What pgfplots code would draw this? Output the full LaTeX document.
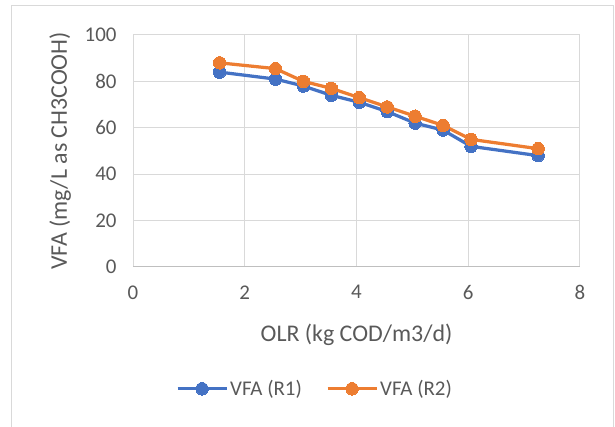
\documentclass[border=0pt]{standalone}
\usepackage{pgfplots}
\pgfplotsset{compat=1.18}
\usepackage{fontspec}
\setmainfont{Carlito}
\definecolor{xlblue}{HTML}{4472C4}
\definecolor{xlorange}{HTML}{ED7D31}
\definecolor{gridc}{HTML}{D9D9D9}
\definecolor{axc}{HTML}{BFBFBF}
\definecolor{txtc}{HTML}{595959}
\begin{document}
\begin{tikzpicture}
\path[use as bounding box] (0,0) rectangle (615bp,427bp);
\draw[gridc, line width=1bp] (11bp,0bp) -- (11bp,421bp) -- (613bp,421bp) -- (613bp,0bp);
\begin{axis}[
  at={(133bp,160bp)}, anchor=south west,
  scale only axis, width=447bp, height=232bp,
  xmin=0, xmax=8, ymin=0, ymax=100,
  xtick={0,2,4,6,8}, ytick={0,20,40,60,80,100},
  /pgf/number format/assume math mode=true,
  major tick length=0pt,
  grid=major,
  major grid style={gridc, line width=1bp},
  separate axis lines,
  axis x line*=bottom, axis y line*=left,
  x axis line style={axc, line width=1bp, -},
  y axis line style={draw=none, -},
  tick label style={font=\fontsize{21}{25}\selectfont, text=txtc},
  xticklabel style={yshift=-15bp},
  yticklabel style={xshift=-13bp},
  xlabel={OLR (kg COD/m3/d)},
  ylabel={VFA (mg/L as CH3COOH)},
  label style={font=\fontsize{24}{28}\selectfont, text=txtc},
  xlabel style={at={(axis description cs:0.5,-0.319)}, anchor=base},
  ylabel style={at={(axis description cs:-0.1477,0.5)}, anchor=base, rotate=0},
  legend columns=2,
  legend style={at={(axis description cs:0.407,-0.525)}, anchor=center, draw=none, fill=none,
    font=\fontsize{21}{25}\selectfont, text=txtc,
    /tikz/every even column/.append style={column sep=22bp}},
  legend image code/.code={\draw[mark repeat=2,mark phase=2,#1] plot coordinates {(0bp,0bp) (24.5bp,0bp) (49bp,0bp)};},
]
\addplot[xlblue, line width=3.25bp, mark=*, mark size=6.25bp, mark options={solid, fill=xlblue, draw=xlblue, line width=0pt}]
coordinates {(1.55,84) (2.55,81) (3.05,78) (3.55,74) (4.05,71) (4.55,67) (5.05,62) (5.55,59) (6.05,52) (7.25,48)};
\addlegendentry{VFA (R1)}
\addplot[xlorange, line width=3.25bp, mark=*, mark size=6.25bp, mark options={solid, fill=xlorange, draw=xlorange, line width=0pt}]
coordinates {(1.55,88) (2.55,85.5) (3.05,80) (3.55,77) (4.05,73) (4.55,69) (5.05,65) (5.55,61) (6.05,55) (7.25,51)};
\addlegendentry{VFA (R2)}
\end{axis}
\end{tikzpicture}
\end{document}
